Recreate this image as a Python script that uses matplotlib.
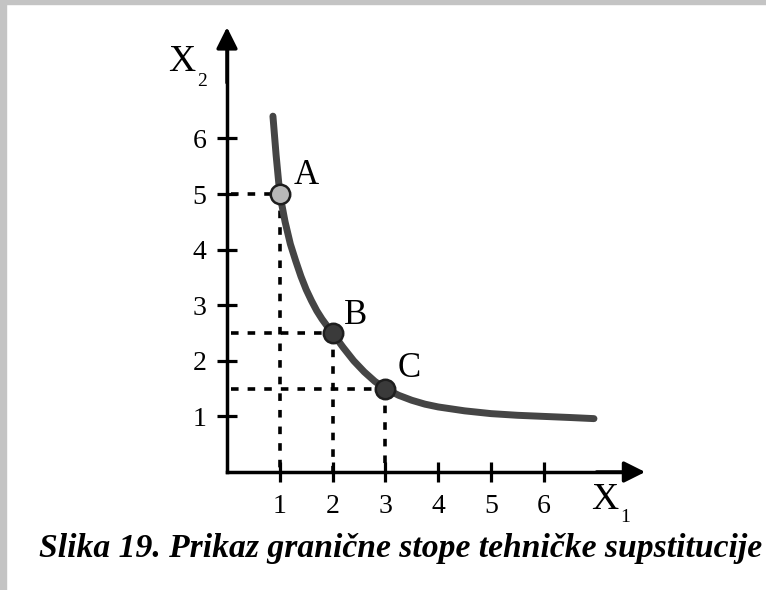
import matplotlib
matplotlib.use("Agg")
import matplotlib.pyplot as plt
from matplotlib.patches import Rectangle

# isoquant
curve_x1 = [0.87, 0.93, 1.0, 1.1, 1.2, 1.3, 1.4, 1.5, 1.6, 1.7, 1.8, 1.9, 2.0,
            2.2, 2.4, 2.6, 2.8, 3.0, 3.25, 3.5, 3.75, 4.0, 4.5, 5.0, 5.5,
            6.0, 6.5, 6.95]
curve_x2 = [6.4, 5.7, 5.0, 4.5, 4.1, 3.8, 3.52, 3.28, 3.08, 2.9, 2.75, 2.62, 2.5,
            2.24, 2.0, 1.8, 1.63, 1.5, 1.38, 1.29, 1.22, 1.17, 1.1, 1.05, 1.02,
            1.0, 0.98, 0.96]

point_names = ["A", "B", "C"]
point_x1 = [1, 2, 3]
point_x2 = [5, 2.5, 1.5]

x_ticks = [1, 2, 3, 4, 5, 6]
y_ticks = [1, 2, 3, 4, 5, 6]
caption = "Slika 19. Prikaz granične stope tehničke supstitucije"

plt.rcParams['font.family'] = ['Liberation Serif', 'DejaVu Serif']

W, H = 766, 590
fig = plt.figure(figsize=(W / 100, H / 100), dpi=100)
ax = fig.add_axes([0, 0, 1, 1])

# pixel -> data mapping: origin at (227, 472), 52.8 px per x unit, 55.6 px per y unit
ox, oy, sx, sy = 227, 472, 52.8, 55.6
ax.set_xlim(-ox / sx, (W - ox) / sx)
ax.set_ylim(-(H - oy) / sy, oy / sy)

# scanner border
fig.patches.append(Rectangle((0, 0), 6 / W, 1, transform=fig.transFigure,
                             color='#c4c4c4', zorder=0))
fig.patches.append(Rectangle((0, 1 - 4 / H), 1, 4 / H, transform=fig.transFigure,
                             color='#c4c4c4', zorder=0))

# axes as spines through the origin, with arrows
for side in ['top', 'right']:
    ax.spines[side].set_visible(False)
ax.spines['left'].set_position(('data', 0))
ax.spines['bottom'].set_position(('data', 0))
ax.spines['left'].set_bounds(0, 7.6)
ax.spines['bottom'].set_bounds(0, 7.5)
ax.spines['left'].set_linewidth(2.5)
ax.spines['bottom'].set_linewidth(2.5)

ax.annotate('', xy=(7.92, 0), xytext=(7.0, 0),
            arrowprops=dict(arrowstyle='-|>', lw=2.5, color='black',
                            mutation_scale=32, shrinkA=0, shrinkB=0))
ax.annotate('', xy=(0, 8.0), xytext=(0, 7.0),
            arrowprops=dict(arrowstyle='-|>', lw=2.5, color='black',
                            mutation_scale=32, shrinkA=0, shrinkB=0))

ax.set_xticks(x_ticks)
ax.set_yticks(y_ticks)
ax.set_xticklabels([str(t) for t in x_ticks])
ax.set_yticklabels([str(t) for t in y_ticks])
ax.tick_params(axis='both', direction='inout', length=14, width=2.3,
               labelsize=20, colors='black')
ax.tick_params(axis='x', pad=9)
ax.tick_params(axis='y', pad=8)

# dashed guide lines
for x1, x2 in zip(point_x1, point_x2):
    ax.plot([0.08, x1], [x2, x2], color='black', lw=2.6,
            linestyle=(0, (2.1, 2.5)), zorder=2)
    ax.plot([x1, x1], [x2, 0.02], color='black', lw=2.6,
            linestyle=(0, (2.1, 2.5)), zorder=2)

# isoquant
ax.plot(curve_x1, curve_x2, color='#454545', lw=5, solid_capstyle='round',
        solid_joinstyle='round', zorder=3)

# points
fills = ['#b8b8b8', '#3a3a3a', '#3a3a3a']
for x1, x2, fc in zip(point_x1, point_x2, fills):
    ax.plot(x1, x2, marker='o', markersize=14, markerfacecolor=fc,
            markeredgecolor='#1e1e1e', markeredgewidth=1.8, zorder=4)

label_offsets = [(0.5, 0.34), (0.44, 0.31), (0.45, 0.37)]
for name, x1, x2, (dx, dy) in zip(point_names, point_x1, point_x2, label_offsets):
    ax.text(x1 + dx, x2 + dy, name, fontsize=25, ha='center', va='center')

# axis names
ax.text(-0.85, 7.38, "X", fontsize=27, ha='center', va='center')
ax.text(-0.47, 7.03, "2", fontsize=14, ha='center', va='center')
ax.text(7.15, -0.5, "X", fontsize=27, ha='center', va='center')
ax.text(7.55, -0.82, "1", fontsize=14, ha='center', va='center')

# caption, sized to span the same width as the scanned one
cap = fig.text(401 / W, 1 - 549 / H, caption, fontsize=22, fontweight='bold',
               fontstyle='italic', ha='center', va='center')
fig.canvas.draw()
bb = cap.get_window_extent()
cap.set_fontsize(22 * 722 / bb.width)

fig.savefig("out.png", dpi=100)
